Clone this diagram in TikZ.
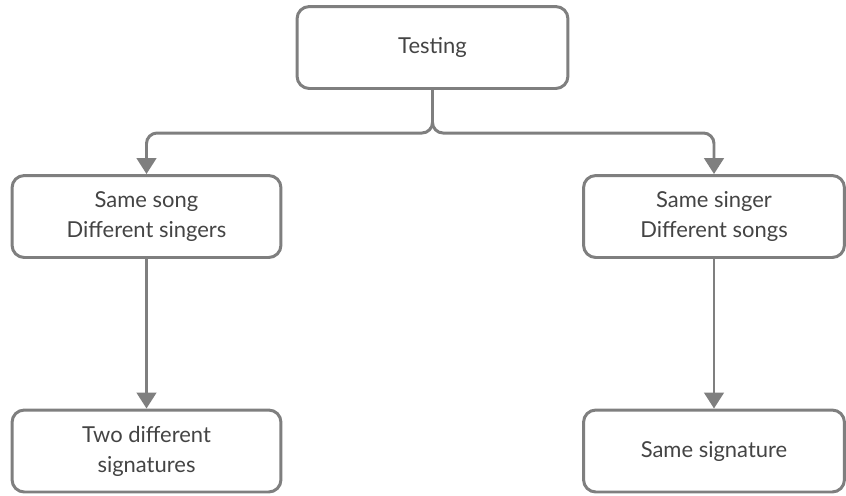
\documentclass[tikz,border=0pt]{standalone}
\usepackage{fontspec}
\setmainfont{Lato}
\usetikzlibrary{arrows.meta}
\definecolor{linegray}{HTML}{7F7F7F}
\definecolor{textgray}{HTML}{444444}
\tikzset{
    box/.style={draw=linegray, line width=1.7pt, rounded corners=7pt, fill=white,
        text=textgray, align=center, minimum height=1.64cm, inner sep=2pt,
        font=\fontsize{12.5}{17}\selectfont},
    link/.style={draw=linegray, line width=1.7pt, rounded corners=6pt,
        -{Triangle[width=11pt,length=9pt]}}
}
\begin{document}
\begin{tikzpicture}[x=0.02cm, y=-0.02cm]
    \useasboundingbox (0,0) rectangle (846,495);

    % Root
    \node[box, minimum width=5.42cm] (test) at (432.5,47.5) {Testing};

    % Two test cases
    \node[box, minimum width=5.38cm] (samesong) at (146.5,216.5) {Same song\\Different singers};
    \node[box, minimum width=5.22cm] (samesinger) at (714,216.5) {Same singer\\Different songs};

    % Outcomes
    \node[box, minimum width=5.38cm] (twosig) at (146.5,451) {Two different\\signatures};
    \node[box, minimum width=5.22cm] (samesig) at (714,451) {Same signature};

    % Branches
    \coordinate (split) at (432.5,133);
    \draw[link] (test.south) -- (split) -| (samesong.north);
    \draw[link] (test.south) -- (split) -| (samesinger.north);
    \draw[link] (samesong) -- (twosig);
    \draw[link] (samesinger) -- (samesig);
\end{tikzpicture}
\end{document}
